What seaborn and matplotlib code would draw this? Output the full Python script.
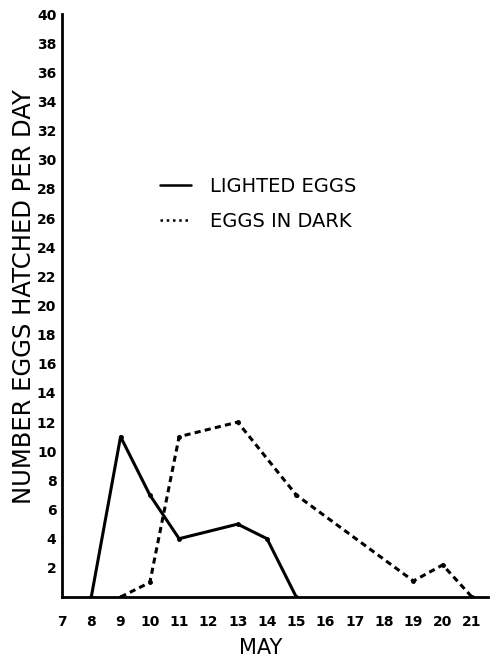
import matplotlib
matplotlib.use("Agg")
import matplotlib.pyplot as plt
import seaborn as sns
import pandas as pd

# Data
lighted_days = [8, 9, 10, 11, 13, 14, 15]
lighted_vals = [0, 11, 7, 4, 5, 4, 0]
dark_days = [9, 10, 11, 13, 15, 19, 20, 21]
dark_vals = [0, 1, 11, 12, 7, 1.1, 2.2, 0]
x_ticks = list(range(7, 22))
y_ticks = list(range(2, 41, 2))

sns.set_style("white")
plt.rcParams['font.family'] = ['DejaVu Sans']
plt.rcParams['text.color'] = 'black'
plt.rcParams['axes.labelcolor'] = 'black'
plt.rcParams['xtick.color'] = 'black'
plt.rcParams['ytick.color'] = 'black'

fig = plt.figure(figsize=(4.92, 6.58), dpi=100)
ax = fig.add_axes([0.126, 0.0927, 0.866, 0.886])

df_l = pd.DataFrame({"day": lighted_days, "n": lighted_vals})
df_d = pd.DataFrame({"day": dark_days, "n": dark_vals})

sns.lineplot(data=df_l, x="day", y="n", ax=ax, color="black", linewidth=2.2,
             marker="o", markersize=3.5, markeredgewidth=0, label="LIGHTED EGGS")
sns.lineplot(data=df_d, x="day", y="n", ax=ax, color="black", linewidth=2.2,
             linestyle=(0, (2.0, 1.4)), marker="o", markersize=3.5,
             markeredgewidth=0, label="EGGS IN DARK")

ax.set_xlim(7, 21.55)
ax.set_ylim(0, 40)
ax.set_xticks(x_ticks)
ax.set_xticklabels([str(t) for t in x_ticks], fontsize=10, fontweight="bold")
ax.set_yticks(y_ticks)
ax.set_yticklabels([str(t) for t in y_ticks], fontsize=10, fontweight="bold")
ax.tick_params(axis="x", direction="in", length=3, width=1.2, pad=13)
ax.tick_params(axis="y", direction="out", length=3, width=1.2, pad=1)

for s in ["top", "right"]:
    ax.spines[s].set_visible(False)
for s in ["left", "bottom"]:
    ax.spines[s].set_color("black")
    ax.spines[s].set_linewidth(2.0)

ax.set_xlabel("MAY", fontsize=15)
ax.set_ylabel("NUMBER EGGS HATCHED PER DAY", fontsize=17.5)
ax.xaxis.set_label_coords(0.467, -0.07)
ax.yaxis.set_label_coords(-0.061, 0.516)

leg = ax.legend(loc="upper left", bbox_to_anchor=(0.19, 0.751), frameon=False,
                fontsize=14, handlelength=1.55, handletextpad=1.0, labelspacing=0.85)
lines = leg.get_lines()
for h in lines:
    h.set_marker("")
    h.set_linewidth(1.8)
lines[1].set_linestyle((0, (1.0, 1.5)))

fig.savefig("out.png", dpi=100)
